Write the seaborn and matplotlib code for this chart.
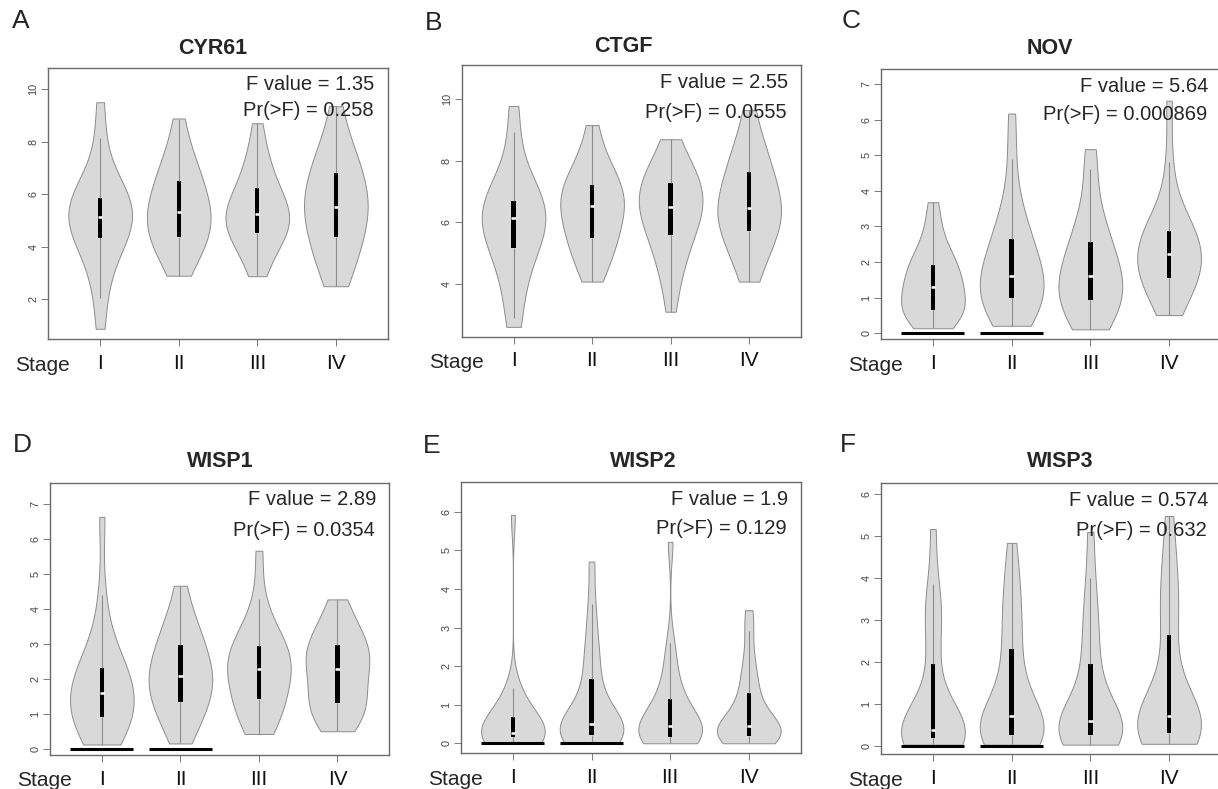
import numpy as np
import pandas as pd
import matplotlib
matplotlib.use("Agg")
import matplotlib.pyplot as plt
import seaborn as sns

# ---------------- data ----------------
stages = ["I", "II", "III", "IV"]
genes = ["CYR61", "CTGF", "NOV", "WISP1", "WISP2", "WISP3"]
panel_letters = ["A", "B", "C", "D", "E", "F"]
f_values = ["1.35", "2.55", "5.64", "2.89", "1.9", "0.574"]
p_values = ["0.258", "0.0555", "0.000869", "0.0354", "0.129", "0.632"]

# expression quantiles (0%, 5%, ..., 100%)
cyr61_I = [0.88, 2.05, 3.1, 3.6, 4.0, 4.32, 4.55, 4.75, 4.9, 5.05, 5.15, 5.3, 5.45, 5.6, 5.72, 5.86, 6.05, 6.3, 6.7, 8.15, 9.5]
cyr61_II = [2.9, 3.4, 3.75, 4.0, 4.2, 4.38, 4.6, 4.8, 5.0, 5.15, 5.33, 5.5, 5.7, 5.9, 6.2, 6.5, 6.75, 7.0, 7.35, 7.9, 8.88]
cyr61_III = [2.88, 3.4, 3.85, 4.2, 4.4, 4.53, 4.7, 4.85, 4.97, 5.1, 5.23, 5.37, 5.5, 5.65, 5.9, 6.22, 6.5, 6.8, 7.2, 7.8, 8.7]
cyr61_IV = [2.5, 3.0, 3.35, 3.7, 4.0, 4.36, 4.7, 4.95, 5.15, 5.35, 5.52, 5.75, 5.95, 6.2, 6.5, 6.79, 7.05, 7.35, 7.7, 8.2, 9.35]

ctgf_I = [2.61, 2.9, 3.9, 4.4, 4.8, 5.16, 5.4, 5.6, 5.8, 5.97, 6.13, 6.25, 6.37, 6.5, 6.6, 6.69, 6.85, 7.1, 7.5, 8.95, 9.78]
ctgf_II = [4.08, 4.55, 4.85, 5.1, 5.3, 5.48, 5.7, 5.95, 6.15, 6.35, 6.53, 6.65, 6.78, 6.9, 7.05, 7.21, 7.4, 7.6, 7.9, 8.35, 9.16]
ctgf_III = [3.1, 4.1, 4.55, 4.9, 5.3, 5.59, 5.8, 6.0, 6.2, 6.35, 6.51, 6.65, 6.8, 6.95, 7.1, 7.29, 7.45, 7.6, 7.8, 8.1, 8.7]
ctgf_IV = [4.08, 4.6, 4.95, 5.25, 5.5, 5.73, 5.95, 6.1, 6.25, 6.35, 6.46, 6.65, 6.85, 7.05, 7.3, 7.65, 7.85, 8.05, 8.35, 8.8, 9.65]

nov_I = [0.14, 0.3, 0.42, 0.52, 0.6, 0.65, 0.75, 0.85, 0.98, 1.15, 1.31, 1.45, 1.58, 1.7, 1.82, 1.92, 2.1, 2.3, 2.6, 3.1, 3.68]
nov_II = [0.21, 0.45, 0.62, 0.75, 0.88, 0.98, 1.1, 1.22, 1.35, 1.48, 1.62, 1.8, 2.0, 2.2, 2.42, 2.64, 2.9, 3.25, 3.7, 4.9, 6.17]
nov_III = [0.11, 0.3, 0.45, 0.6, 0.78, 0.94, 1.08, 1.2, 1.33, 1.47, 1.61, 1.78, 1.95, 2.15, 2.35, 2.57, 2.85, 3.2, 3.6, 4.6, 5.17]
nov_IV = [0.51, 0.85, 1.1, 1.3, 1.43, 1.54, 1.7, 1.85, 1.98, 2.1, 2.23, 2.35, 2.48, 2.6, 2.73, 2.87, 3.05, 3.3, 3.65, 4.8, 6.53]

wisp1_I = [0.13, 0.3, 0.45, 0.6, 0.75, 0.91, 1.05, 1.2, 1.33, 1.46, 1.59, 1.73, 1.88, 2.03, 2.18, 2.33, 2.55, 2.85, 3.3, 4.4, 6.64]
wisp1_II = [0.16, 0.55, 0.8, 1.0, 1.2, 1.35, 1.55, 1.72, 1.85, 1.97, 2.09, 2.22, 2.38, 2.55, 2.75, 2.97, 3.15, 3.35, 3.6, 4.0, 4.67]
wisp1_III = [0.43, 0.7, 0.88, 1.05, 1.22, 1.42, 1.65, 1.85, 2.0, 2.15, 2.29, 2.42, 2.55, 2.68, 2.8, 2.96, 3.1, 3.3, 3.6, 4.3, 5.67]
wisp1_IV = [0.51, 0.75, 0.9, 1.05, 1.18, 1.31, 1.5, 1.7, 1.9, 2.1, 2.28, 2.45, 2.6, 2.72, 2.83, 2.97, 3.1, 3.3, 3.55, 3.85, 4.28]

wisp2_I = [0.02, 0.05, 0.08, 0.11, 0.14, 0.16, 0.18, 0.2, 0.22, 0.24, 0.26, 0.3, 0.36, 0.45, 0.55, 0.67, 0.82, 1.0, 1.3, 1.42, 5.92]
wisp2_II = [0.02, 0.06, 0.12, 0.16, 0.19, 0.22, 0.27, 0.33, 0.38, 0.44, 0.5, 0.6, 0.75, 0.95, 1.25, 1.66, 2.0, 2.4, 2.9, 3.6, 4.71]
wisp2_III = [0.0, 0.04, 0.08, 0.11, 0.14, 0.16, 0.22, 0.28, 0.34, 0.4, 0.46, 0.54, 0.64, 0.78, 0.95, 1.14, 1.35, 1.65, 2.1, 2.6, 5.22]
wisp2_IV = [0.0, 0.05, 0.09, 0.13, 0.16, 0.19, 0.25, 0.31, 0.36, 0.41, 0.46, 0.55, 0.68, 0.84, 1.05, 1.3, 1.55, 1.85, 2.25, 2.9, 3.45]

wisp3_I = [0.03, 0.08, 0.13, 0.16, 0.18, 0.2, 0.24, 0.28, 0.32, 0.35, 0.39, 0.48, 0.62, 0.85, 1.3, 1.96, 2.6, 3.05, 3.4, 3.85, 5.17]
wisp3_II = [0.03, 0.1, 0.15, 0.19, 0.22, 0.25, 0.32, 0.4, 0.5, 0.6, 0.72, 0.9, 1.15, 1.45, 1.85, 2.31, 2.75, 3.15, 3.6, 4.1, 4.84]
wisp3_III = [0.03, 0.09, 0.14, 0.18, 0.22, 0.25, 0.32, 0.39, 0.45, 0.52, 0.59, 0.72, 0.9, 1.15, 1.5, 1.96, 2.4, 2.85, 3.35, 4.0, 5.1]
wisp3_IV = [0.05, 0.12, 0.18, 0.23, 0.27, 0.31, 0.4, 0.5, 0.58, 0.65, 0.71, 0.85, 1.05, 1.35, 1.85, 2.64, 3.1, 3.55, 4.0, 4.6, 5.48]

gene_data = {
    "CYR61": [cyr61_I, cyr61_II, cyr61_III, cyr61_IV],
    "CTGF": [ctgf_I, ctgf_II, ctgf_III, ctgf_IV],
    "NOV": [nov_I, nov_II, nov_III, nov_IV],
    "WISP1": [wisp1_I, wisp1_II, wisp1_III, wisp1_IV],
    "WISP2": [wisp2_I, wisp2_II, wisp2_III, wisp2_IV],
    "WISP3": [wisp3_I, wisp3_II, wisp3_III, wisp3_IV],
}
# stages showing a group of zero values (flat line at 0)
zero_stages = {
    "CYR61": [], "CTGF": [], "NOV": ["I", "II"],
    "WISP1": ["I", "II"], "WISP2": ["I", "II"], "WISP3": ["I", "II"],
}
y_ticks = {
    "CYR61": [2, 4, 6, 8, 10], "CTGF": [4, 6, 8, 10], "NOV": [0, 1, 2, 3, 4, 5, 6, 7],
    "WISP1": [0, 1, 2, 3, 4, 5, 6, 7], "WISP2": [0, 1, 2, 3, 4, 5, 6], "WISP3": [0, 1, 2, 3, 4, 5, 6],
}

# ---------------- layout (pixels) ----------------
W, H = 1218, 789
frames = [(48.3, 68.3, 387.7, 339.3), (461.7, 65, 801, 336.7), (881, 69, 1221, 339.3),
          (50, 483.3, 389.3, 755), (461, 481.7, 800.7, 753.3), (881, 483.3, 1221, 754.3)]
ylims = [(0.48, 10.79), (2.29, 11.11), (-0.17, 7.42), (-0.17, 7.6), (-0.26, 6.78), (-0.2, 6.26)]
title_pos = [(213, 48), (623, 47), (1050, 48), (220, 461.7), (643, 461.7), (1060, 461.7)]
letter_pos = [(12, 21), (425, 23), (842, 21), (13, 445), (423, 446), (840, 445)]
fp_offsets = [(16, 42), (17, 47), (17, 46), (16, 47), (18, 47), (17, 47)]
# KDE bandwidth factors (relative to each group's std)
bw_factor = [0.6, 0.6, 0.55, 0.55, 0.42, 0.45]

sns.set_style("white")
plt.rcParams["font.family"] = ["Liberation Sans", "DejaVu Sans"]

fig = plt.figure(figsize=(W / 100, H / 100), dpi=100)

VIOLIN_FILL = "#d9d9d9"
EDGE = "#8c8c8c"

for k, gene in enumerate(genes):
    l, t, r, b = frames[k]
    ax = fig.add_axes([l / W, 1 - b / H, (r - l) / W, (b - t) / H])
    vals = gene_data[gene]
    df = pd.DataFrame({
        "stage": np.repeat(stages, [len(v) for v in vals]),
        "expr": np.concatenate(vals),
    })
    sns.violinplot(data=df, x="stage", y="expr", order=stages, ax=ax, cut=0,
                   density_norm="width", width=0.81, inner=None, color=VIOLIN_FILL,
                   linecolor=EDGE, linewidth=0.7, bw_method=bw_factor[k], saturation=1)
    sns.boxplot(data=df, x="stage", y="expr", order=stages, ax=ax, width=0.055,
                showcaps=False, showfliers=False, color="black", saturation=1,
                linewidth=0,
                boxprops=dict(facecolor="black", edgecolor="black"),
                whiskerprops=dict(color=EDGE, linewidth=0.8),
                medianprops=dict(color="white", linewidth=1.8))
    for s in zero_stages[gene]:
        i = stages.index(s)
        ax.hlines(0, i - 0.4, i + 0.4, color="black", linewidth=2.2, zorder=5)

    ax.set_xlim(-0.66, 3.66)
    ax.set_ylim(*ylims[k])
    ax.set_yticks(y_ticks[gene])
    ax.set_yticklabels([str(v) for v in y_ticks[gene]], rotation=90, va="center")
    ax.set_xlabel("")
    ax.set_ylabel("")
    ax.tick_params(axis="both", bottom=True, left=True, direction="out", length=5,
                   width=0.7, color="#7a7a7a")
    ax.tick_params(axis="y", labelsize=7.8, labelcolor="#444444", pad=2)
    ax.tick_params(axis="x", labelsize=15, labelcolor="#111111", pad=5.5)
    for sp in ax.spines.values():
        sp.set_visible(True)
        sp.set_color("#6a6a6a")
        sp.set_linewidth(1.0)

    # annotations
    fo, po = fp_offsets[k]
    fig.text((r - 13) / W, 1 - (t + fo) / H, f"F value = {f_values[k]}", ha="right",
             va="center", fontsize=14.5)
    fig.text((r - 14) / W, 1 - (t + po) / H, f"Pr(>F) = {p_values[k]}", ha="right",
             va="center", fontsize=14.5)
    tx, ty = title_pos[k]
    fig.text(tx / W, 1 - ty / H, gene, ha="center", va="center", fontsize=15.5,
             fontweight="bold")
    lx, ly = letter_pos[k]
    fig.text(lx / W, 1 - ly / H, panel_letters[k], ha="left", va="center", fontsize=19)
    fig.text((l - 33) / W, 1 - (b + 26) / H, "Stage", ha="left", va="center", fontsize=15)

fig.savefig("out.png", dpi=100, facecolor="white")
